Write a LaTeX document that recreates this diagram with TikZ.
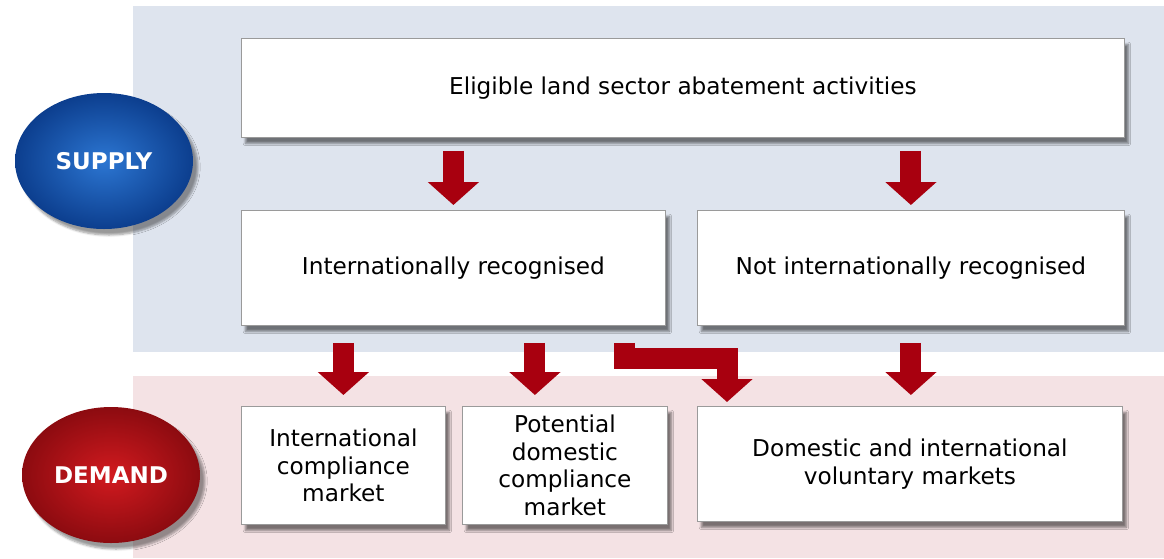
\documentclass[tikz,border=0pt]{standalone}
\usepackage{fontspec}
\setmainfont{DejaVu Sans}
\usepackage{xcolor}
\usetikzlibrary{arrows.meta,shapes.geometric,shadows.blur}

\definecolor{supplybg}{HTML}{DEE4EE}
\definecolor{demandbg}{HTML}{F4E2E4}
\definecolor{arrowred}{HTML}{A8000F}
\definecolor{boxline}{HTML}{9A9A9A}
\definecolor{supplyin}{HTML}{2C76D2}
\definecolor{supplyout}{HTML}{0C3E8E}
\definecolor{demandin}{HTML}{D21A1F}
\definecolor{demandout}{HTML}{8C0B10}

\begin{document}
\begin{tikzpicture}[x=1pt, y=-1pt,
    box/.style={draw=boxline, line width=0.8pt, fill=white, anchor=north west, align=center,
        font=\fontsize{23.2}{27.5}\selectfont,
        blur shadow={shadow xshift=4pt, shadow yshift=-6pt, shadow blur steps=6, shadow opacity=50}},
    ball/.style={ellipse, minimum width=178pt, minimum height=136pt, text=white,
        font=\fontsize{23}{27}\selectfont\bfseries,
        blur shadow={shadow xshift=5pt, shadow yshift=-6pt, shadow blur steps=6, shadow opacity=40}},
    bigarrow/.style={draw=arrowred, line width=21pt, -{Triangle[width=50pt,length=23pt]}}]
        \useasboundingbox (0,0) rectangle (1164,558);
        % panels
        \fill [supplybg] (133,6) rectangle (1164,352);
        \fill [demandbg] (133,376) rectangle (1164,558);
        % side labels
        \node [ball, inner color=supplyin, outer color=supplyout] (supply) at (104,161) {SUPPLY};
        \node [ball, inner color=demandin, outer color=demandout] (demand) at (111,475) {DEMAND};
        % supply boxes
        \node [box, minimum width=883pt, minimum height=99pt] (activities) at (241,38) {Eligible land sector abatement activities};
        \node [box, minimum width=424pt, minimum height=115pt] (intl) at (241,210) {Internationally recognised};
        \node [box, minimum width=427pt, minimum height=115pt] (nonintl) at (697,210) {Not internationally recognised};
        % demand boxes
        \node [box, minimum width=204pt, minimum height=118pt] (intlmarket) at (241,406) {International\\compliance\\market};
        \node [box, minimum width=205pt, minimum height=118pt] (dommarket) at (462,406) {Potential\\domestic\\compliance\\market};
        \node [box, minimum width=425pt, minimum height=115pt] (volmarket) at (697,406) {Domestic and international\\voluntary markets};
        % arrows
        \draw [bigarrow, shorten <=13pt, shorten >=5pt] (activities.south -| intl.north) -- (intl.north);
        \draw [bigarrow, shorten <=13pt, shorten >=5pt] (activities.south -| nonintl.north) -- (nonintl.north);
        \draw [bigarrow, shorten <=17pt, shorten >=11pt] (intl.south -| intlmarket.north) -- (intlmarket.north);
        \draw [bigarrow, shorten <=17pt, shorten >=11pt] ([xshift=-30pt]dommarket.north |- intl.south) -- ([xshift=-30pt]dommarket.north);
        \draw [bigarrow, shorten <=17pt, shorten >=11pt] (nonintl.south) -- (nonintl.south |- volmarket.north);
        \coordinate (bend) at (727,358);
        \draw [bigarrow, shorten <=17pt, shorten >=4pt] ([xshift=171pt]intl.south) |- (bend) -- (bend |- volmarket.north);

    \end{tikzpicture}
\end{document}
